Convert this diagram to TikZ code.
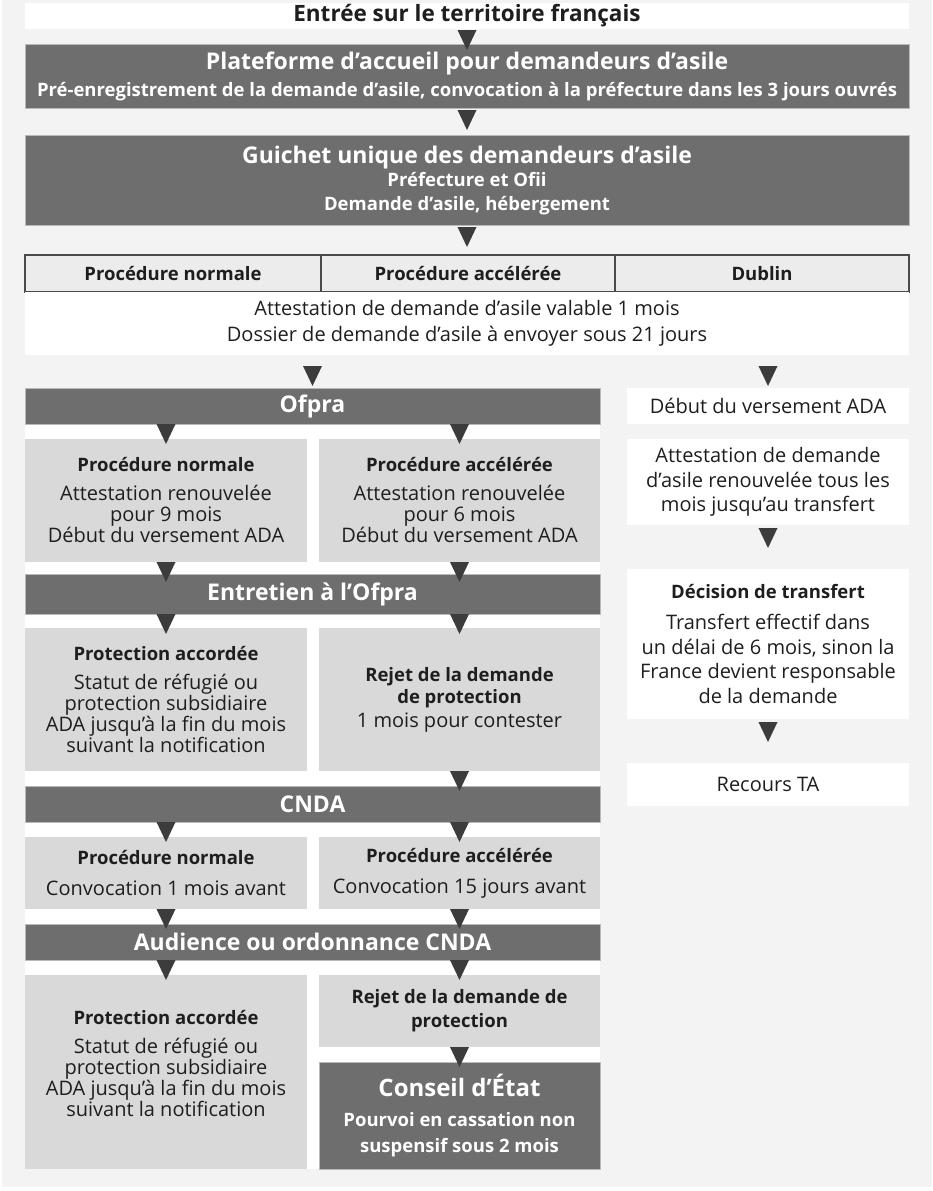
\documentclass[tikz,border=0pt]{standalone}
\usepackage{fontspec}
\setmainfont{Open Sans}
\usetikzlibrary{positioning, shapes.geometric}

\definecolor{pagegray}{HTML}{F3F3F3}
\definecolor{bardark}{HTML}{6E6E6E}
\definecolor{barline}{HTML}{B9B9B9}
\definecolor{boxlight}{HTML}{D9D9D9}
\definecolor{headgray}{HTML}{ECECEC}
\definecolor{headline}{HTML}{4A4A4A}
\definecolor{tridark}{HTML}{3C3C3C}
\definecolor{ink}{HTML}{1E1E1E}

\newcommand\linefont{\fontsize{18.5}{23}\selectfont}
\newcommand\headln[1]{{\fontsize{18.5}{21}\selectfont\bfseries #1}}

\tikzset{
  boxsize/.style 2 args={minimum width=#1pt, minimum height=#2pt},
  box/.style={anchor=north west, inner sep=0pt, outer sep=0pt, align=center, text=ink,
    font=\fontsize{20}{21}\selectfont},
  darkbox/.style={box, fill=bardark, draw=barline, line width=0.6pt, text=white,
    font=\fontsize{23}{26}\selectfont\bfseries},
  lightbox/.style={box, fill=boxlight},
  whitebox/.style={box, fill=white},
  sidebox/.style={box, fill=white, font=\fontsize{20}{24.5}\selectfont},
  headcell/.style={box, fill=headgray, draw=headline, line width=1.2pt,
    font=\fontsize{18.5}{20}\selectfont\bfseries, boxsize={#1}{37}},
  tri/.style={isosceles triangle, isosceles triangle stretches, shape border rotate=-90,
    fill=tridark, inner sep=0pt, outer sep=0pt, minimum width=19pt, minimum height=20pt,
    anchor=north},
}

\begin{document}
\begin{tikzpicture}[x=1pt, y=-1pt]
\useasboundingbox (0,0) rectangle (932,1191);
\fill[white] (0,0) rectangle (932,1191);
\fill[pagegray] (2,0) rectangle (932,1187);
% white panel behind the Ofpra / CNDA column
\fill[white] (25,388) rectangle (600,1169);

% top of the procedure
\node[whitebox, boxsize={884}{26}, font=\fontsize{22.5}{23}\selectfont\bfseries] (entree) at (25,3)
  {Entrée sur le territoire français};
\node[darkbox, boxsize={884}{64}] (spada) at (25,44)
  {Plateforme d’accueil pour demandeurs d’asile\\[1pt]
   {\fontsize{18.5}{20}\selectfont Pré-enregistrement de la demande d’asile, convocation à la préfecture dans les 3 jours ouvrés}};
\node[darkbox, boxsize={884}{90}] (guda) at (25,135)
  {Guichet unique des demandeurs d’asile\\[-3pt]
   {\linefont Préfecture et Ofii}\\[-2pt]{\linefont Demande d’asile, hébergement}};

% table of the three procedures
\node[headcell=296] (hnorm) at (25,255) {Procédure normale};
\node[headcell=294, right=0pt of hnorm] (hacc) {Procédure accélérée};
\node[headcell=294, right=0pt of hacc] (hdub) {Dublin};
\node[whitebox, boxsize={884}{63}] (attest) at (25,292)
  {Attestation de demande d’asile valable 1 mois\\[5pt]Dossier de demande d’asile à envoyer sous 21 jours};

% Ofpra column
\node[darkbox, boxsize={575}{36}] (ofpra) at (25,388) {Ofpra};
\node[lightbox, boxsize={282}{123}] (ofnorm) at (25,439)
  {\headln{Procédure normale}\\[8pt]Attestation renouvelée\\pour 9 mois\\Début du versement ADA};
\node[lightbox, boxsize={281}{123}] (ofacc) at (319,439)
  {\headln{Procédure accélérée}\\[8pt]Attestation renouvelée\\pour 6 mois\\Début du versement ADA};
\node[darkbox, boxsize={575}{40}] (entretien) at (25,574) {Entretien à l’Ofpra};
\node[lightbox, boxsize={282}{143}] (ofprot) at (25,628)
  {\headln{Protection accordée}\\[8pt]Statut de réfugié ou\\protection subsidiaire\\ADA jusqu’à la fin du mois\\suivant la notification};
\node[lightbox, boxsize={281}{143}] (ofrejet) at (319,628)
  {\headln{Rejet de la demande}\\[1pt]\headln{de protection}\\[3pt]1 mois pour contester};

% CNDA column
\node[darkbox, boxsize={575}{36}] (cnda) at (25,786) {CNDA};
\node[lightbox, boxsize={282}{72}] (cnnorm) at (25,837)
  {\headln{Procédure normale}\\[10pt]Convocation 1 mois avant};
\node[lightbox, boxsize={281}{72}] (cnacc) at (319,837)
  {\headln{Procédure accélérée}\\[10pt]Convocation 15 jours avant};
\node[darkbox, boxsize={575}{36}] (audience) at (25,924) {Audience ou ordonnance CNDA};
\node[lightbox, boxsize={282}{194}] (cnprot) at (25,975)
  {\headln{Protection accordée}\\[8pt]Statut de réfugié ou\\protection subsidiaire\\ADA jusqu’à la fin du mois\\suivant la notification\\[-3pt]\mbox{}};
\node[lightbox, boxsize={281}{72}] (cnrejet) at (319,975)
  {\headln{Rejet de la demande de}\\[3pt]\headln{protection}};
\node[darkbox, boxsize={281}{107}, font=\fontsize{24}{28}\selectfont\bfseries] (etat) at (319,1062)
  {Conseil d’État\\[2pt]{\linefont Pourvoi en cassation non}\\[-2pt]{\linefont suspensif sous 2 mois}};

% Dublin column
\node[sidebox, boxsize={282}{36}] (ada) at (627,388) {Début du versement ADA};
\node[sidebox, boxsize={282}{86}] (dubattest) at (627,439)
  {Attestation de demande\\d’asile renouvelée tous les\\mois jusqu’au transfert};
\node[sidebox, boxsize={282}{150}] (transfert) at (627,569)
  {\headln{Décision de transfert}\\[7pt]Transfert effectif dans\\un délai de 6 mois, sinon la\\France devient responsable\\de la demande};
\node[sidebox, boxsize={282}{43}] (recours) at (627,763) {Recours TA};

% triangles between the steps
\node[tri] (t1) at ([yshift=-1pt]entree.south) {};
\node[tri] (t2) at ([yshift=-2pt]spada.south) {};
\node[tri] (t3) at ([yshift=-2pt]guda.south) {};
\node[tri, anchor=south] (t4) at ([yshift=2pt]ofpra.north) {};
\node[tri, anchor=south] (t5) at ([yshift=2pt]ada.north) {};
\node[tri] (t6) at (ofnorm.north |- ofpra.south) {};
\node[tri] (t7) at (ofacc.north |- ofpra.south) {};
\node[tri] (t8) at ([yshift=-3pt]dubattest.south) {};
\node[tri] (t9) at (ofnorm.south) {};
\node[tri] (t10) at (ofacc.south) {};
\node[tri] (t11) at (ofprot.north |- entretien.south) {};
\node[tri] (t12) at (ofrejet.north |- entretien.south) {};
\node[tri] (t13) at ([yshift=-3pt]transfert.south) {};
\node[tri] (t14) at (ofrejet.south) {};
\node[tri] (t15) at (cnnorm.north |- cnda.south) {};
\node[tri] (t16) at (cnacc.north |- cnda.south) {};
\node[tri] (t17) at (cnnorm.south) {};
\node[tri] (t18) at (cnacc.south) {};
\node[tri] (t19) at (cnprot.north |- audience.south) {};
\node[tri] (t20) at (cnrejet.north |- audience.south) {};
\node[tri] (t21) at (cnrejet.south) {};
\end{tikzpicture}
\end{document}
